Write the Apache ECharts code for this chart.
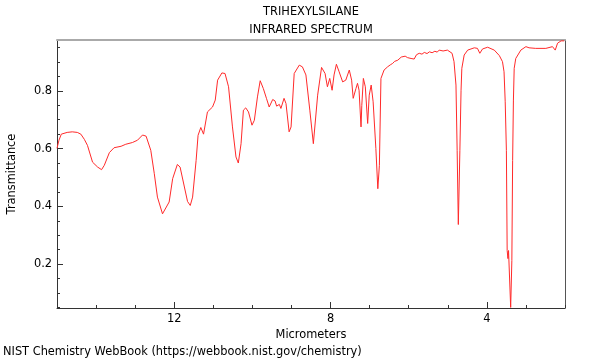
<!DOCTYPE html>
<html>
<head>
<meta charset="utf-8">
<script src="https://cdn.jsdelivr.net/npm/echarts@6/dist/echarts.min.js"></script>
<style>html,body{margin:0;padding:0;background:#fff}#c{width:600px;height:360px}</style>
</head>
<body>
<div id="c"></div>
<script>
// Wavelength in micrometers
const micrometers = [15.0,14.95,14.89,14.74,14.61,14.48,14.39,14.30,14.22,14.09,13.96,13.86,13.79,13.66,13.54,13.36,13.24,13.07,12.94,12.81,12.72,12.60,12.51,12.43,12.30,12.26,12.13,12.04,11.92,11.85,11.74,11.66,11.59,11.53,11.44,11.39,11.32,11.25,11.15,11.02,10.95,10.89,10.78,10.70,10.61,10.51,10.42,10.36,10.29,10.23,10.17,10.10,10.01,9.95,9.87,9.80,9.72,9.64,9.57,9.48,9.42,9.38,9.31,9.27,9.19,9.14,9.06,9.01,8.93,8.80,8.72,8.63,8.53,8.44,8.33,8.23,8.14,8.08,8.02,7.96,7.91,7.85,7.78,7.69,7.61,7.52,7.46,7.42,7.35,7.31,7.27,7.22,7.20,7.16,7.11,7.05,7.01,6.96,6.91,6.84,6.79,6.75,6.71,6.63,6.54,6.47,6.41,6.36,6.32,6.28,6.24,6.19,6.14,6.09,6.03,5.99,5.94,5.90,5.86,5.80,5.73,5.66,5.60,5.53,5.47,5.40,5.33,5.27,5.22,5.12,5.01,4.89,4.84,4.79,4.76,4.73,4.69,4.66,4.64,4.58,4.49,4.32,4.24,4.18,4.11,3.98,3.81,3.68,3.60,3.56,3.53,3.50,3.48,3.46,3.445,3.39,3.36,3.34,3.32,3.30,3.26,3.13,3.00,2.92,2.75,2.49,2.32,2.25,2.19,2.10,2.02];
// Transmittance values
const transmittance = [0.601,0.629,0.650,0.656,0.658,0.656,0.650,0.632,0.611,0.553,0.536,0.527,0.542,0.586,0.603,0.608,0.615,0.621,0.629,0.647,0.643,0.594,0.513,0.432,0.374,0.368,0.415,0.496,0.545,0.536,0.467,0.417,0.403,0.432,0.559,0.646,0.673,0.650,0.727,0.744,0.768,0.837,0.862,0.860,0.814,0.675,0.571,0.550,0.617,0.733,0.741,0.727,0.681,0.698,0.779,0.835,0.808,0.774,0.744,0.770,0.765,0.747,0.753,0.739,0.774,0.756,0.658,0.675,0.860,0.889,0.883,0.855,0.733,0.617,0.785,0.881,0.860,0.814,0.843,0.802,0.855,0.892,0.866,0.831,0.837,0.872,0.837,0.774,0.808,0.826,0.802,0.675,0.750,0.843,0.814,0.687,0.785,0.820,0.762,0.600,0.461,0.542,0.843,0.872,0.883,0.890,0.895,0.902,0.899,0.906,0.912,0.917,0.913,0.920,0.915,0.918,0.912,0.916,0.910,0.925,0.930,0.927,0.933,0.929,0.935,0.932,0.937,0.934,0.941,0.938,0.941,0.930,0.901,0.820,0.594,0.337,0.594,0.802,0.878,0.924,0.941,0.949,0.947,0.930,0.945,0.951,0.941,0.922,0.901,0.866,0.762,0.594,0.247,0.219,0.247,0.050,0.212,0.559,0.768,0.878,0.912,0.941,0.953,0.949,0.947,0.947,0.953,0.941,0.965,0.973,0.973];
// Tick values
const xMajorTicks = [4, 8, 12];
const yMajorTicks = [0.2, 0.4, 0.6, 0.8];
const yMinorTicks = [0.05,0.1,0.15,0.2,0.25,0.3,0.35,0.4,0.45,0.5,0.55,0.6,0.65,0.7,0.75,0.8,0.85,0.9,0.95];

const FONT = 'DejaVu Sans';
const FS = 11.4;
const xMin = 2, xMax = 15, yMin = 0.048, yMax = 0.976;
const data = micrometers.map((m, i) => [m, transmittance[i]]);

const chart = echarts.init(document.getElementById('c'), null, {renderer: 'canvas'});
const baseX = {type: 'value', min: xMin, max: xMax, inverse: true, splitLine: {show: false}};
const baseY = {type: 'value', min: yMin, max: yMax, splitLine: {show: false}};
const font = FS + 'px "DejaVu Sans"';
chart.setOption({
  animation: false,
  grid: {left: 57, right: 35, top: 40, bottom: 52, containLabel: false, outerBoundsMode: 'none'},
  graphic: [
    {type: 'text', x: 311, y: 12, style: {text: 'TRIHEXYLSILANE', textAlign: 'center', textVerticalAlign: 'middle', font: font, fill: '#000'}},
    {type: 'text', x: 311, y: 30, style: {text: 'INFRARED SPECTRUM', textAlign: 'center', textVerticalAlign: 'middle', font: font, fill: '#000'}},
    {type: 'text', x: 3, y: 352, style: {text: 'NIST Chemistry WebBook (https://webbook.nist.gov/chemistry)', textAlign: 'left', textVerticalAlign: 'middle', font: font, fill: '#000'}}
  ],
  xAxis: [
    Object.assign({}, baseX, {position: 'bottom', interval: 1,
      axisLine: {show: true, lineStyle: {color: '#333', width: 1}},
      axisTick: {show: true, inside: true, length: 3, lineStyle: {color: '#333'}},
      axisLabel: {show: false}}),
    Object.assign({}, baseX, {position: 'bottom',
      name: 'Micrometers', nameLocation: 'middle', nameGap: 17,
      nameTextStyle: {fontFamily: FONT, fontSize: FS, color: '#000'},
      axisLine: {show: false},
      axisTick: {show: true, inside: true, length: 6, customValues: xMajorTicks, lineStyle: {color: '#333'}},
      axisLabel: {show: true, margin: 6, customValues: xMajorTicks, fontFamily: FONT, fontSize: FS, color: '#000'}}),
    Object.assign({}, baseX, {position: 'top',
      axisLine: {show: true, lineStyle: {color: '#aaa', width: 2}},
      axisTick: {show: false}, axisLabel: {show: false}})
  ],
  yAxis: [
    Object.assign({}, baseY, {position: 'left',
      name: 'Transmittance', nameLocation: 'middle', nameGap: 39,
      nameTextStyle: {fontFamily: FONT, fontSize: FS, color: '#000'},
      axisLine: {show: true, lineStyle: {color: '#333', width: 1}},
      axisTick: {show: true, inside: true, length: 3, customValues: yMinorTicks, lineStyle: {color: '#333'}},
      axisLabel: {show: false}}),
    Object.assign({}, baseY, {position: 'left',
      axisLine: {show: false},
      axisTick: {show: true, inside: true, length: 6, customValues: yMajorTicks, lineStyle: {color: '#333'}},
      axisLabel: {show: true, margin: 5, customValues: yMajorTicks, fontFamily: FONT, fontSize: FS, color: '#000',
        formatter: v => v.toFixed(1)}}),
    Object.assign({}, baseY, {position: 'right',
      axisLine: {show: true, lineStyle: {color: '#555', width: 1}},
      axisTick: {show: false}, axisLabel: {show: false}})
  ],
  series: [{
    type: 'line', xAxisIndex: 0, yAxisIndex: 0, data: data,
    showSymbol: false, symbol: 'none', silent: true,
    lineStyle: {color: '#ff2a2a', width: 1}
  }]
});
</script>
</body>
</html>
